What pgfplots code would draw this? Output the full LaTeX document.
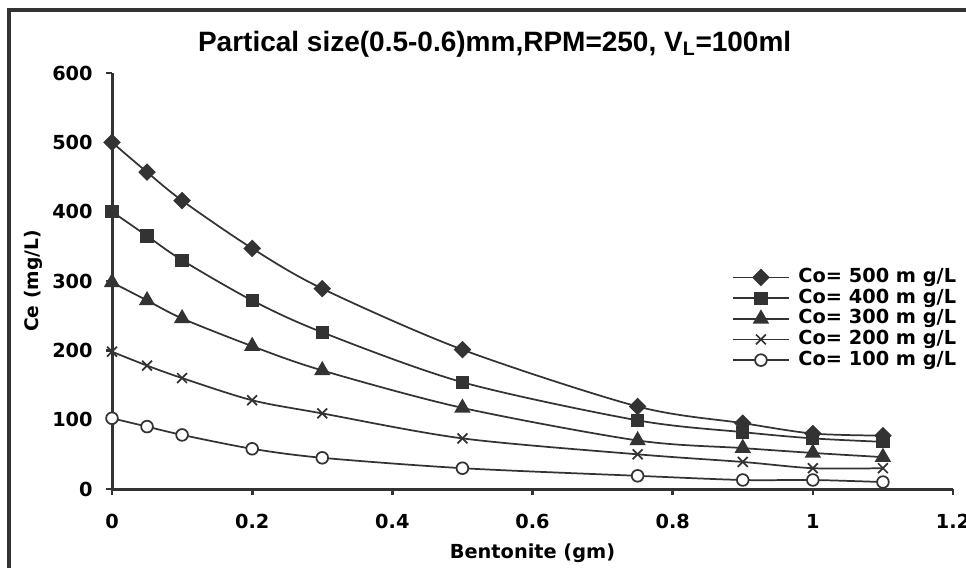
\documentclass[border=0pt]{standalone}
\usepackage{fontspec}
\setmainfont{DejaVu Sans}
\newfontfamily\titlefont{Liberation Sans}
\usepackage{pgfplots}
\pgfplotsset{compat=1.18}
\definecolor{ink}{HTML}{333333}

\begin{document}
\begin{tikzpicture}
\useasboundingbox (0,0) rectangle (724.5pt,425.25pt);
% outer frame (cut at right and bottom in the reference)
\draw[ink, line width=3pt, line join=miter] (7.1pt,-5pt) -- (7.1pt,418.1pt) -- (730pt,418.1pt);

\begin{axis}[
    at={(84pt,58.5pt)}, anchor=south west,
    scale only axis, width=630.75pt, height=312pt,
    xmin=0, xmax=1.2, ymin=0, ymax=600,
    xtick={0,0.2,0.4,0.6,0.8,1,1.2},
    ytick={0,100,200,300,400,500,600},
    axis x line=bottom, axis y line=left,
    axis line style={-, line width=2.25pt, ink},
    tick align=outside, major tick length=4.5pt,
    tick style={line width=2pt, ink},
    ticklabel style={font=\bfseries\fontsize{14.5}{16}\selectfont},
    yticklabel style={xshift=-6.5pt},
    xticklabel style={yshift=-11pt},
    /pgf/number format/assume math mode=true,
    clip=false,
    title={Partical size(0.5-0.6)mm,RPM=250, V\textsubscript{L}=100ml},
    title style={at={(axis description cs:0.455,1)}, anchor=base, yshift=10.5pt,
        inner sep=0pt, font=\titlefont\bfseries\fontsize{21}{25}\selectfont},
    xlabel={Bentonite (gm)},
    xlabel style={at={(axis description cs:0.5,0)}, anchor=base, yshift=-51.75pt,
        inner sep=0pt, font=\bfseries\fontsize{14.5}{17}\selectfont},
    ylabel={Ce (mg/L)},
    ylabel style={at={(axis description cs:-0.094,0.5)}, anchor=center,
        inner sep=0pt, font=\bfseries\fontsize{14}{17}\selectfont},
    every axis plot/.append style={ink, line width=1.3pt, smooth},
    legend cell align=left,
    legend style={at={(axis description cs:0.737,0.534)}, anchor=north west,
        draw=none, fill=none, inner sep=0pt, row sep=0pt,
        font=\bfseries\fontsize{14.5}{16}\selectfont,
        nodes={inner xsep=0pt, inner ysep=1pt, text height=10.5pt, text depth=3pt},
        /tikz/every odd column/.append style={column sep=6.5pt}},
    legend image code/.code={
        \draw[mark repeat=2, mark phase=2] plot coordinates {(0pt,0pt) (21pt,0pt) (42pt,0pt)};},
]
\addplot[mark=square*, mark size=4pt, mark options={rotate=45, fill=ink}] coordinates {
(0,500) (0.05,457) (0.1,416) (0.2,347) (0.3,289) (0.5,201) (0.75,119) (0.9,95) (1,80) (1.1,77)
};
\addplot[mark=square*, mark size=4.3pt, mark options={fill=ink}] coordinates {
(0,400) (0.05,365) (0.1,330) (0.2,272) (0.3,226) (0.5,154) (0.75,99) (0.9,82) (1,73) (1.1,68)
};
\addplot[mark=triangle*, mark size=5.8pt, mark options={fill=ink}] coordinates {
(0,298) (0.05,272) (0.1,246) (0.2,206) (0.3,171) (0.5,117) (0.75,70) (0.9,59) (1,52) (1.1,46)
};
\addplot[mark=x, mark size=5.2pt, mark options={line width=1.3pt}] coordinates {
(0,198) (0.05,178) (0.1,160) (0.2,128) (0.3,109) (0.5,73) (0.75,50) (0.9,39) (1,30) (1.1,30)
};
\addplot[mark=*, mark size=4.4pt, mark options={fill=white, line width=1.3pt}] coordinates {
(0,102) (0.05,90) (0.1,78) (0.2,58) (0.3,45) (0.5,30) (0.75,19) (0.9,13) (1,13) (1.1,10)
};
\legend{Co= 500 m g/L, Co= 400 m g/L, Co= 300 m g/L, Co= 200 m g/L, Co= 100 m g/L}
\end{axis}
\end{tikzpicture}
\end{document}
